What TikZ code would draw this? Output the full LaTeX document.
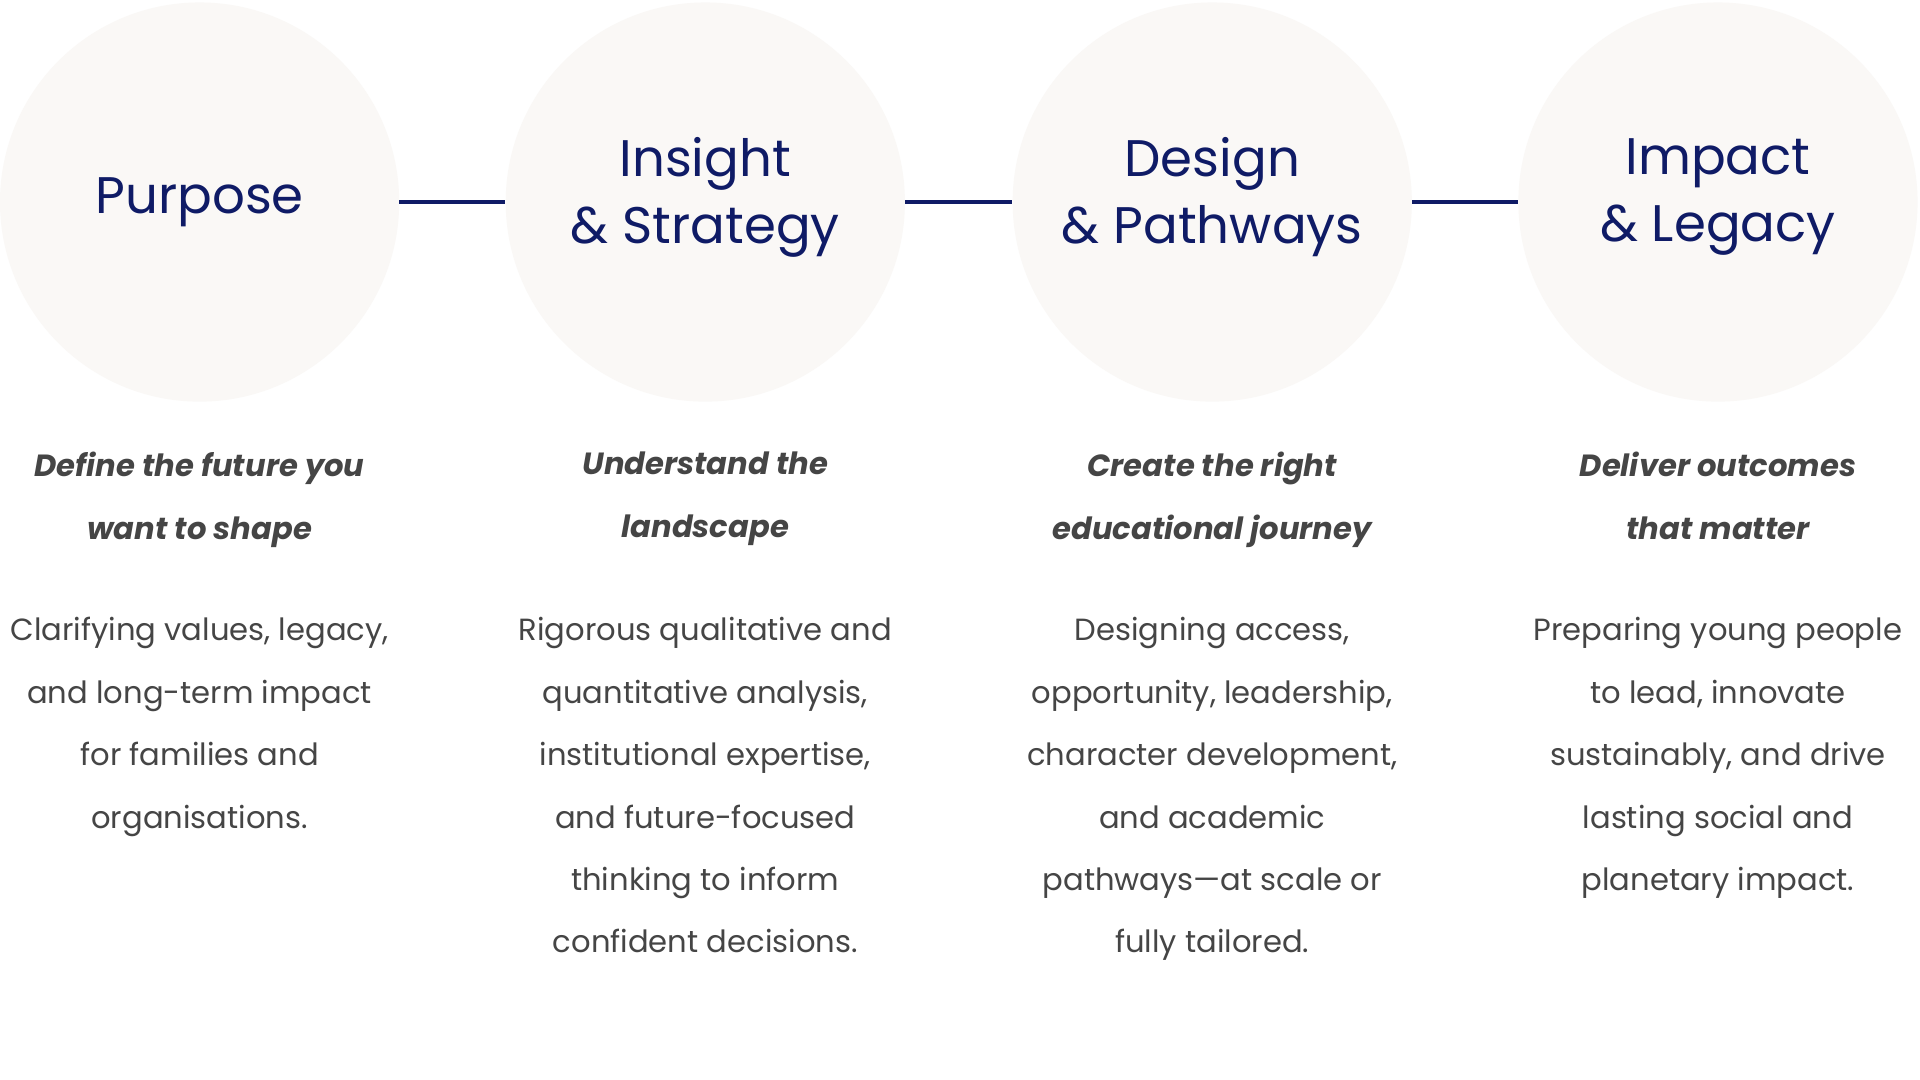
\documentclass[tikz,border=0pt]{standalone}
\usepackage{fontspec}
\setmainfont{Poppins}
\definecolor{navy}{HTML}{0F1B66}
\definecolor{circ}{HTML}{FAF8F6}
\definecolor{txt}{HTML}{454545}
\begin{document}
\begin{tikzpicture}[x=1pt,y=-1pt,
  circ/.style={circle,fill=circ,minimum size=326pt,inner sep=0},
  ttl/.style={text=navy,font=\fontsize{42}{55}\selectfont,align=center},
  sub/.style={text=txt,font=\fontsize{25}{51}\selectfont\bfseries\itshape,align=center,anchor=north,inner sep=0},
  body/.style={text=txt,font=\fontsize{25}{51}\selectfont,align=center,anchor=north,inner sep=0},
  link/.style={draw=navy,line width=3.5pt}]
\useasboundingbox (0,0) rectangle (1568,882);
\fill[white] (0,0) rectangle (1568,882);
\node[circ] (c1) at (163,165) {};
\node[circ] (c2) at (576,165) {};
\node[circ] (c3) at (990,165) {};
\node[circ] (c4) at (1403,165) {};
\draw[link] (c1.east) -- (c2.west);
\draw[link] (c2.east) -- (c3.west);
\draw[link] (c3.east) -- (c4.west);
\node[ttl] (t1) at (163,165) {Purpose};
\node[ttl] (t2) at (576,161) {Insight\\\& Strategy};
\node[ttl] (t3) at (990,161) {Design\\\& Pathways};
\node[ttl] (t4) at (1403,161) {Impact\\\& Legacy};
\node[sub] (s1) at (163,369) {Define the future you\\want to shape};
\node[sub] (s2) at (576,369) {Understand the\\landscape};
\node[sub] (s3) at (990,369) {Create the right\\educational journey};
\node[sub] (s4) at (1403,369) {Deliver outcomes\\that matter};
\node[body] (b1) at (163,504) {Clarifying values, legacy,\\and long-term impact\\for families and\\organisations.};
\node[body] (b2) at (576,504) {Rigorous qualitative and\\quantitative analysis,\\institutional expertise,\\and future-focused\\thinking to inform\\confident decisions.};
\node[body] (b3) at (990,504) {Designing access,\\opportunity, leadership,\\character development,\\and academic\\pathways—at scale or\\fully tailored.};
\node[body] (b4) at (1403,504) {Preparing young people\\to lead, innovate\\sustainably, and drive\\lasting social and\\planetary impact.};
\end{tikzpicture}
\end{document}
